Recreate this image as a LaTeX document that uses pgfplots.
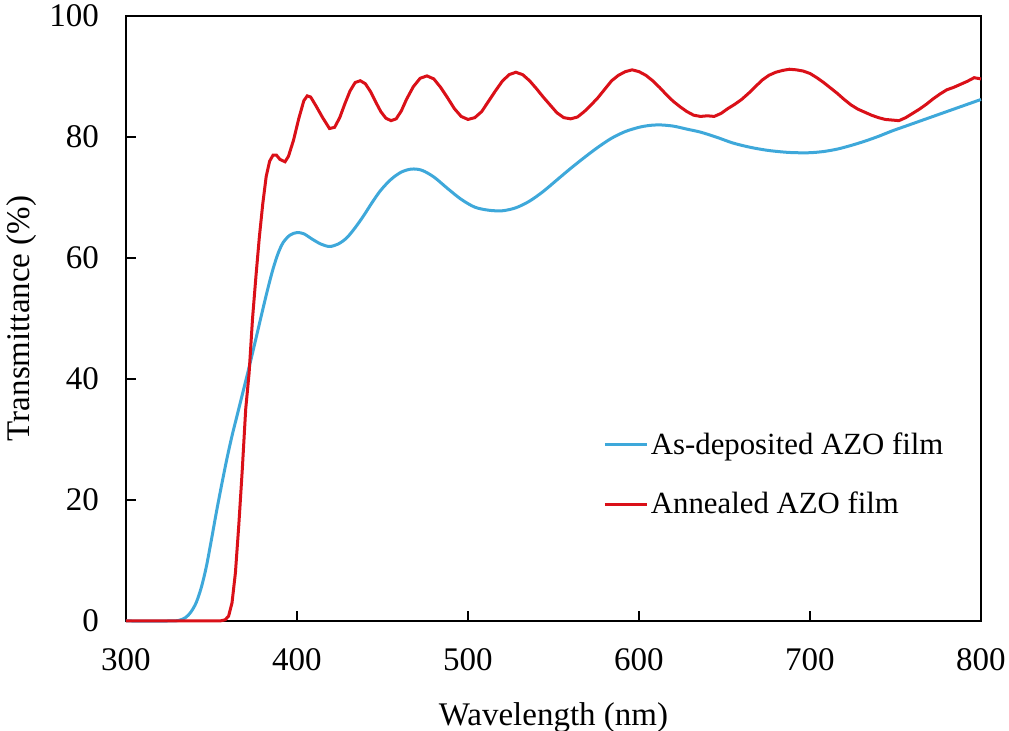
\documentclass[border=0pt]{standalone}
\usepackage{pgfplots}
\pgfplotsset{compat=1.18}
\usepackage{fontspec}
\setmainfont{Liberation Serif}
\definecolor{asdep}{RGB}{62,168,218}
\definecolor{annl}{RGB}{218,16,24}
\begin{document}
\begin{tikzpicture}
\begin{axis}[
  scale only axis, width=427.5pt, height=302.5pt,
  xmin=300, xmax=800, ymin=0, ymax=100,
  xtick={300,400,...,800}, ytick={0,20,...,100},
  tick align=inside, tick pos=left,
  major tick length=5pt,
  axis line style={line width=1pt},
  every tick/.style={black, line width=1pt},
  /pgf/number format/assume math mode=true,
  ticklabel style={font=\fontsize{16.5}{19}\selectfont},
  xticklabel style={yshift=-10pt},
  yticklabel style={xshift=-10pt},
  xlabel={Wavelength (nm)}, ylabel={Transmittance (\%)},
  every axis x label/.style={at={(axis description cs:0.5,-0.159)}, anchor=center, font=\fontsize{16.5}{19}\selectfont},
  every axis y label/.style={at={(axis description cs:-0.1216,0.5)}, rotate=90, anchor=center, font=\fontsize{16.5}{19}\selectfont},
  clip=false,
  legend style={draw=none, fill=none, at={(axis description cs:0.558,0.316)}, anchor=north west,
    font=\fontsize{15.4}{18}\selectfont, row sep=15pt, inner sep=0pt, column sep=0pt,
    nodes={inner sep=1.2pt}},
  legend cell align=left,
  legend image code/.code={\draw[#1] (0pt,0pt) -- (21pt,0pt);},
]
\addplot[asdep, line width=1.5pt, smooth, tension=0.5] coordinates {
(300,0) (325,0) (331,0.1) (335,0.6) (338,1.5) (341,3) (344,5.5) (347,9) (350,13.5) (353,18.2)
(356,22.6) (359,26.8) (362,30.6) (365,34) (368,37.4) (371,40.8) (374,44.3) (377,47.9) (380,51.5)
(383,55) (386,58.2) (389,60.8) (392,62.6) (396,63.8) (400,64.2) (404,64) (409,63.1) (414,62.3)
(419,61.9) (424,62.3) (429,63.3) (434,65) (439,67) (444,69.2) (449,71.2) (455,73) (461,74.2)
(467,74.7) (473,74.5) (480,73.4) (488,71.5) (496,69.7) (504,68.4) (512,67.9) (520,67.8)
(528,68.3) (536,69.4) (544,71) (552,72.9) (560,74.8) (568,76.6) (576,78.3) (584,79.8)
(592,80.9) (600,81.6) (606,81.9) (612,82) (620,81.8) (628,81.3) (636,80.8) (645,80) (655,79)
(665,78.3) (675,77.8) (685,77.5) (692,77.4) (700,77.4) (708,77.6) (716,78) (724,78.6)
(732,79.3) (740,80.1) (748,81) (756,81.8) (764,82.6) (772,83.4) (780,84.2) (790,85.2) (800,86.2)
};
\addlegendentry{As-deposited AZO film}
\addplot[annl, line width=1.5pt] coordinates {
(300,0) (355,0) (358,0.2) (360,0.8) (362,3) (364,8) (366,16) (368,25) (370,35) (372,41)
(374,50) (376,57) (378,63.5) (380,69) (382,73.5) (384,76) (386,77) (388,77) (390,76.3)
(393,75.9) (395,76.8) (398,79.5) (401,83) (404,86) (406,86.8) (408,86.6) (411,85.2) (415,83.2)
(419,81.4) (422,81.6) (425,83.2) (428,85.5) (431,87.6) (434,89) (437,89.3) (440,88.8)
(443,87.5) (446,85.8) (449,84.2) (452,83.1) (455,82.7) (458,83) (461,84.3) (464,86.2)
(468,88.3) (472,89.7) (476,90.1) (480,89.6) (484,88.2) (488,86.5) (492,84.7) (496,83.4)
(500,82.9) (504,83.2) (508,84.2) (512,85.9) (516,87.6) (520,89.2) (524,90.3) (528,90.7)
(532,90.3) (536,89.3) (540,88) (544,86.6) (548,85.3) (552,84) (556,83.2) (560,83) (564,83.3)
(568,84.2) (572,85.3) (576,86.5) (580,87.9) (584,89.3) (588,90.2) (592,90.8) (596,91.1)
(600,90.8) (604,90.2) (608,89.3) (612,88.2) (616,87) (620,85.9) (624,85) (628,84.2) (632,83.6)
(636,83.4) (640,83.5) (644,83.4) (648,83.9) (652,84.7) (656,85.4) (660,86.2) (664,87.2)
(668,88.3) (672,89.4) (676,90.2) (680,90.7) (684,91) (688,91.2) (692,91.1) (696,90.9)
(700,90.5) (704,89.8) (708,89) (712,88.1) (716,87.2) (720,86.2) (724,85.3) (728,84.6)
(732,84.1) (736,83.6) (740,83.2) (744,82.9) (748,82.8) (752,82.7) (756,83.2) (760,83.9)
(764,84.6) (768,85.4) (772,86.3) (776,87.1) (780,87.8) (784,88.2) (788,88.7) (792,89.2)
(796,89.8) (800,89.6)
};
\addlegendentry{Annealed AZO film}
\end{axis}
\pgfresetboundingbox
\path[use as bounding box] (-63pt,-55pt) rectangle (441.5pt,310.5pt);
\end{tikzpicture}
\end{document}
